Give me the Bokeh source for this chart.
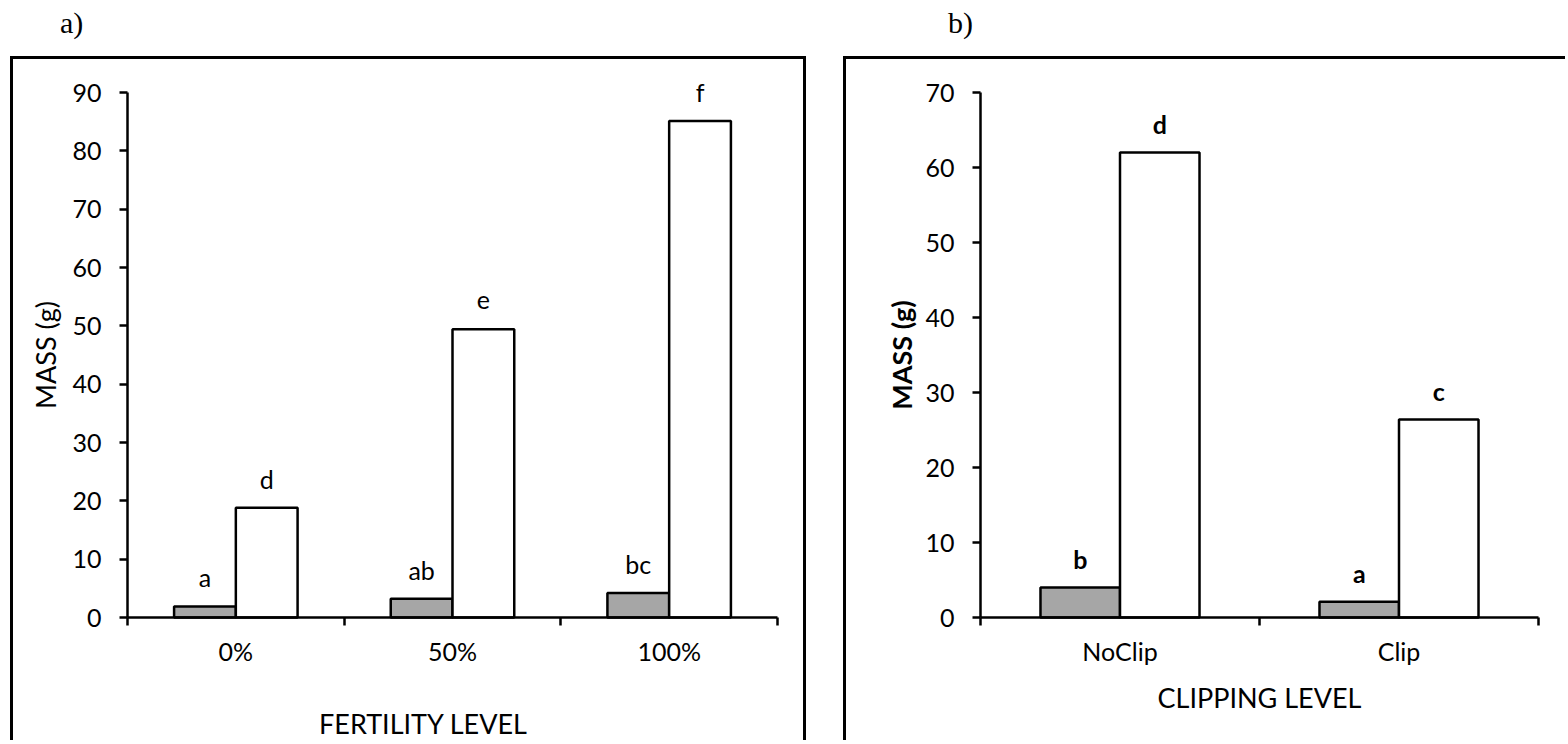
import math
from bokeh.plotting import figure
from bokeh.models import (ColumnDataSource, Range1d, FixedTicker, LinearAxis, Label, Div, Spacer)
from bokeh.layouts import row, column
from bokeh.core.properties import value
from bokeh.embed import file_html
from bokeh.resources import INLINE

# ---- data: panel a) fertility ----
fert_levels = ["0%", "50%", "100%"]
fert_grey = [1.9, 3.2, 4.2]
fert_white = [18.8, 49.4, 85.1]
fert_grey_letters = ["a", "ab", "bc"]
fert_white_letters = ["d", "e", "f"]
fert_yticks = [0, 10, 20, 30, 40, 50, 60, 70, 80, 90]

# ---- data: panel b) clipping ----
clip_levels = ["NoClip", "Clip"]
clip_grey = [4.0, 2.1]
clip_white = [62.0, 26.4]
clip_grey_letters = ["b", "a"]
clip_white_letters = ["d", "c"]
clip_yticks = [0, 10, 20, 30, 40, 50, 60, 70]

FONT = "Lato"
FS = "25px"
TFS = "27px"
BW = 0.285

# layout geometry (pixels inside each figure canvas)
CANVAS_H = 684          # canvas height
AXIS_TOP_PX = 33        # pixel row of the top y tick
AXIS_LEN_PX = 525       # pixel length of the y axis


def make_panel(levels, grey, white, gl, wl, yticks, xtitle, bold, width,
               axis_left_px, axis_right_px, ylab_x, xtitle_x, xtitle_y, styles):
    n = len(levels)
    centers = [i + 0.5 for i in range(n)]
    edges = list(range(n + 1))
    ymin, ymax = yticks[0], yticks[-1]
    per_py = (ymax - ymin) / AXIS_LEN_PX
    y_hi = ymax + AXIS_TOP_PX * per_py
    y_lo = ymin - (CANVAS_H - AXIS_TOP_PX - AXIS_LEN_PX) * per_py
    per_px = n / (axis_right_px - axis_left_px)
    x_lo = -axis_left_px * per_px
    x_hi = n + (width - axis_right_px) * per_px

    src = ColumnDataSource(dict(
        xg=[c - BW / 2 for c in centers], xw=[c + BW / 2 for c in centers],
        grey=grey, white=white, gl=gl, wl=wl))
    p = figure(x_range=Range1d(x_lo, x_hi), y_range=Range1d(y_lo, y_hi),
               width=width, height=CANVAS_H, output_backend="svg", toolbar_location=None,
               x_axis_location=None, y_axis_location=None,
               min_border_left=0, min_border_right=0,
               min_border_top=0, min_border_bottom=0,
               styles=styles)
    p.outline_line_color = None
    p.xgrid.visible = False
    p.ygrid.visible = False
    p.background_fill_color = "white"
    p.border_fill_color = "white"

    style = "bold" if bold else "normal"

    yax = LinearAxis(ticker=FixedTicker(ticks=yticks), bounds=(ymin, ymax), fixed_location=0)
    yax.axis_line_width = 2.5
    yax.major_tick_line_width = 2.5
    yax.major_tick_out = 8
    yax.major_tick_in = 0
    yax.minor_tick_line_color = None
    yax.major_label_text_font = FONT
    yax.major_label_text_font_size = FS
    yax.major_label_text_color = "black"
    yax.major_label_standoff = 18
    p.add_layout(yax, "left")

    xax = LinearAxis(ticker=FixedTicker(ticks=centers, minor_ticks=edges),
                     major_label_overrides={c: lab for c, lab in zip(centers, levels)},
                     fixed_location=ymin, bounds=(0, n))
    xax.axis_line_width = 2.5
    xax.major_tick_line_color = None
    xax.minor_tick_line_width = 2.5
    xax.minor_tick_line_color = "black"
    xax.minor_tick_out = 8
    xax.minor_tick_in = 0
    xax.major_tick_out = 8
    xax.major_tick_in = 0
    xax.major_label_text_font = FONT
    xax.major_label_text_font_size = FS
    xax.major_label_text_color = "black"
    xax.major_label_standoff = 10
    p.add_layout(xax, "below")

    p.vbar(x="xg", top="grey", width=BW, source=src,
           fill_color="#A6A6A6", line_color="black", line_width=2.5)
    p.vbar(x="xw", top="white", width=BW, source=src,
           fill_color="white", line_color="black", line_width=2.5)

    p.text(x="xg", y="grey", text="gl", source=src,
           y_offset=-29, text_align="center", text_baseline="alphabetic",
           text_font=value(FONT), text_font_size=FS, text_font_style=style, text_color="black")
    p.text(x="xw", y="white", text="wl", source=src,
           y_offset=-29, text_align="center", text_baseline="alphabetic",
           text_font=value(FONT), text_font_size=FS, text_font_style=style, text_color="black")

    # axis titles
    ylab_y = CANVAS_H - AXIS_TOP_PX - AXIS_LEN_PX / 2
    p.add_layout(Label(x=ylab_x, y=ylab_y, x_units="screen", y_units="screen", text="MASS (g)",
                       angle=math.pi / 2, text_align="center", text_baseline="middle",
                       text_font=FONT, text_font_size=TFS, text_font_style=style,
                       text_color="black"))
    p.add_layout(Label(x=xtitle_x, y=xtitle_y, x_units="screen", y_units="screen", text=xtitle,
                       text_align="center", text_baseline="middle", text_font=FONT,
                       text_font_size=TFS, text_color="black"))
    return p


p1 = make_panel(fert_levels, fert_grey, fert_white, fert_grey_letters, fert_white_letters,
                fert_yticks, "FERTILITY LEVEL", False, 796,
                114, 764, 32, 410, 20,
                {"border-top": "3px solid black", "border-left": "3px solid black",
                 "border-right": "3px solid black"})
p2 = make_panel(clip_levels, clip_grey, clip_white, clip_grey_letters, clip_white_letters,
                clip_yticks, "CLIPPING LEVEL", True, 722,
                134, 692, 55, 413, 46,
                {"border-top": "3px solid black", "border-left": "3px solid black"})

header = Div(width=1568, height=56, margin=0, text=(
    '<div style="position:relative;width:1568px;height:56px;'
    'font-family:\'Liberation Serif\';font-size:30px;color:black;">'
    '<span style="position:absolute;left:60px;top:2px;">a)</span>'
    '<span style="position:absolute;left:948px;top:2px;">b)</span></div>'))

layout = column(header, row(Spacer(width=10), p1, Spacer(width=37), p2))

open("out.html", "w").write(file_html(layout, INLINE))
